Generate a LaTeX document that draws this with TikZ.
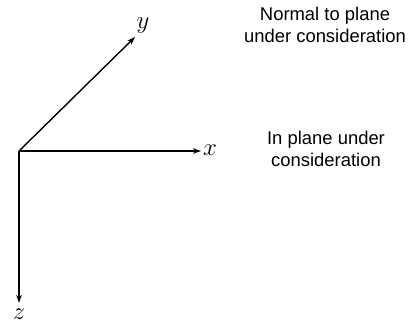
\documentclass[tikz,border=0pt]{standalone}
\usepackage{fontspec}
\setmainfont{Liberation Sans}
\usepackage{tikz}
\usetikzlibrary{arrows.meta,positioning}
\tikzset{
  axisline/.style={-{Stealth[length=8bp,width=5.5bp,inset=2.5bp]}, line width=1.4bp, black},
  axislabel/.style={inner sep=1bp, font=\fontsize{23}{26}\selectfont},
  note/.style={align=center, inner sep=0pt,
               font=\fontsize{18.5}{22.5}\selectfont},
}

\begin{document}
\begin{tikzpicture}[x=1bp,y=1bp]
  \useasboundingbox (0,0) rectangle (417,326);

  % axes
  \coordinate (O) at (19,175);
  \coordinate (xend) at (201,175);
  \coordinate (yend) at (135,289);
  \coordinate (zend) at (19,23);
  \draw[axisline] (O) -- (xend);
  \draw[axisline] (O) -- (yend);
  \draw[axisline] (O) -- (zend);
  \node[axislabel] (xlab) at (210,176) {$x$};
  \node[axislabel] (ylab) at (143,300) {$y$};
  \node[axislabel] (zlab) at (19,12) {$z$};

  % notes
  \node[note] (normal) at (325,301) {Normal to plane\\under consideration};
  \node[note] (inplane) at (326,177) {In plane under\\consideration};
\end{tikzpicture}
\end{document}
